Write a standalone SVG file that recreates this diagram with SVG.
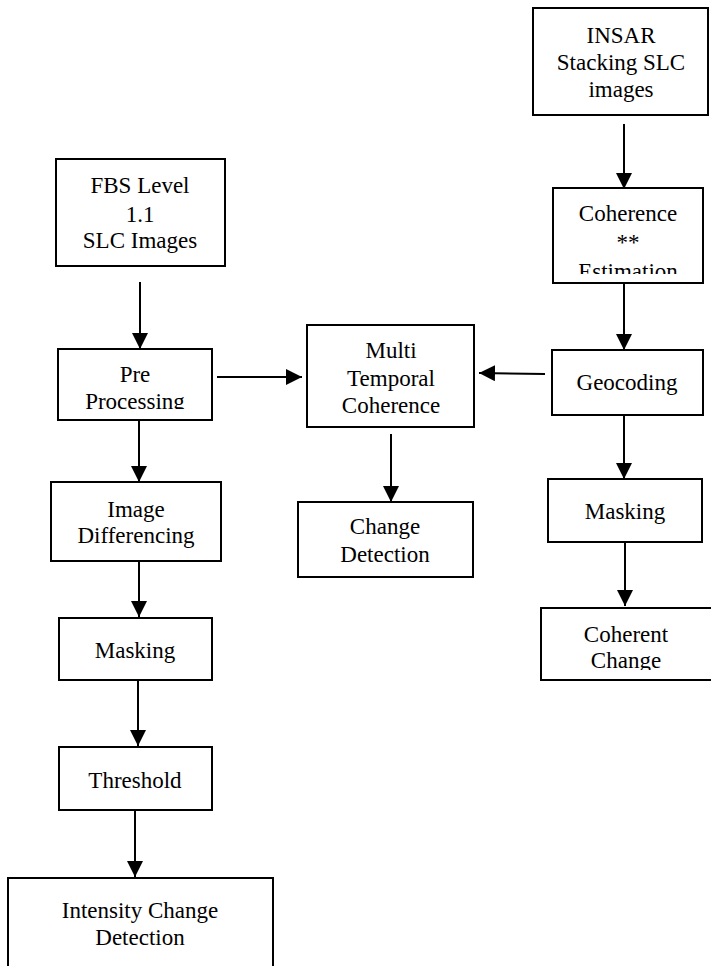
<svg xmlns="http://www.w3.org/2000/svg" width="711" height="966" viewBox="0 0 711 966">
<style>
.box{fill:#fff;stroke:#000;stroke-width:2}
.t{font-family:"Liberation Serif","Times New Roman",serif;font-size:23px;fill:#000;text-anchor:middle}
.c{stroke:#000;stroke-width:2;fill:none;marker-end:url(#ah)}
</style>
<defs>
<marker id="ah" markerUnits="userSpaceOnUse" markerWidth="16" markerHeight="16" viewBox="0 0 16 16" refX="16" refY="8" orient="auto">
<path d="M0,0 L16,8 L0,16 z" fill="#000"/>
</marker>
<clipPath id="clipCoh"><rect x="553" y="188" width="150" height="86"/></clipPath>
<clipPath id="clipPre"><rect x="58" y="349" width="154" height="60"/></clipPath>
<clipPath id="clipCC"><rect x="541" y="608" width="170" height="62"/></clipPath>
</defs>
<rect width="711" height="966" fill="#fff"/>
<g id="connectors">
<line class="c" x1="624" y1="124" x2="624" y2="189"/>
<line class="c" x1="624" y1="283" x2="624" y2="350"/>
<line class="c" x1="545" y1="374" x2="479" y2="373"/>
<line class="c" x1="624" y1="415" x2="624" y2="479"/>
<line class="c" x1="625" y1="537" x2="625" y2="606"/>
<line class="c" x1="140" y1="282" x2="140" y2="349"/>
<line class="c" x1="217" y1="377" x2="302" y2="377"/>
<line class="c" x1="391" y1="434" x2="391" y2="502"/>
<line class="c" x1="139" y1="415" x2="139" y2="482"/>
<line class="c" x1="139" y1="548" x2="139" y2="617"/>
<line class="c" x1="138" y1="678" x2="138" y2="746"/>
<line class="c" x1="135" y1="810" x2="135" y2="877"/>
</g>
<g id="insar">
<rect class="box" x="533" y="8" width="175" height="107"/>
<text class="t" x="621" y="43">INSAR</text>
<text class="t" x="621" y="70">Stacking SLC</text>
<text class="t" x="621" y="97">images</text>
</g>
<g id="coherence-estimation">
<rect class="box" x="553" y="188" width="150" height="95"/>
<g clip-path="url(#clipCoh)">
<text class="t" x="628" y="221">Coherence</text>
<text class="t" x="628" y="250">**</text>
<text class="t" x="628" y="279">Estimation</text>
</g>
</g>
<g id="geocoding">
<rect class="box" x="552" y="350" width="151" height="65"/>
<text class="t" x="627" y="390">Geocoding</text>
</g>
<g id="masking-right">
<rect class="box" x="548" y="479" width="154" height="63"/>
<text class="t" x="625" y="519">Masking</text>
</g>
<g id="coherent-change">
<rect class="box" x="541" y="608" width="172" height="72"/>
<g clip-path="url(#clipCC)">
<text class="t" x="626" y="642">Coherent</text>
<text class="t" x="626" y="668">Change</text>
</g>
</g>
<g id="fbs">
<rect class="box" x="56" y="159" width="169" height="107"/>
<text class="t" x="140" y="193">FBS Level</text>
<text class="t" x="140" y="222">1.1</text>
<text class="t" x="140" y="248">SLC Images</text>
</g>
<g id="preprocessing">
<rect class="box" x="58" y="349" width="154" height="71"/>
<g clip-path="url(#clipPre)">
<text class="t" x="135" y="382">Pre</text>
<text class="t" x="135" y="409">Processing</text>
</g>
</g>
<g id="multi-temporal">
<rect class="box" x="307" y="325" width="167" height="102"/>
<text class="t" x="391" y="358">Multi</text>
<text class="t" x="391" y="386">Temporal</text>
<text class="t" x="391" y="413">Coherence</text>
</g>
<g id="change-detection">
<rect class="box" x="298" y="502" width="175" height="75"/>
<text class="t" x="385" y="534">Change</text>
<text class="t" x="385" y="562">Detection</text>
</g>
<g id="image-differencing">
<rect class="box" x="51" y="482" width="170" height="79"/>
<text class="t" x="136" y="517">Image</text>
<text class="t" x="136" y="543">Differencing</text>
</g>
<g id="masking-left">
<rect class="box" x="59" y="618" width="153" height="62"/>
<text class="t" x="135" y="658">Masking</text>
</g>
<g id="threshold">
<rect class="box" x="59" y="747" width="153" height="63"/>
<text class="t" x="135" y="788">Threshold</text>
</g>
<g id="intensity-change">
<rect class="box" x="8" y="878" width="265" height="90"/>
<text class="t" x="140" y="918">Intensity Change</text>
<text class="t" x="140" y="945">Detection</text>
</g>
</svg>
